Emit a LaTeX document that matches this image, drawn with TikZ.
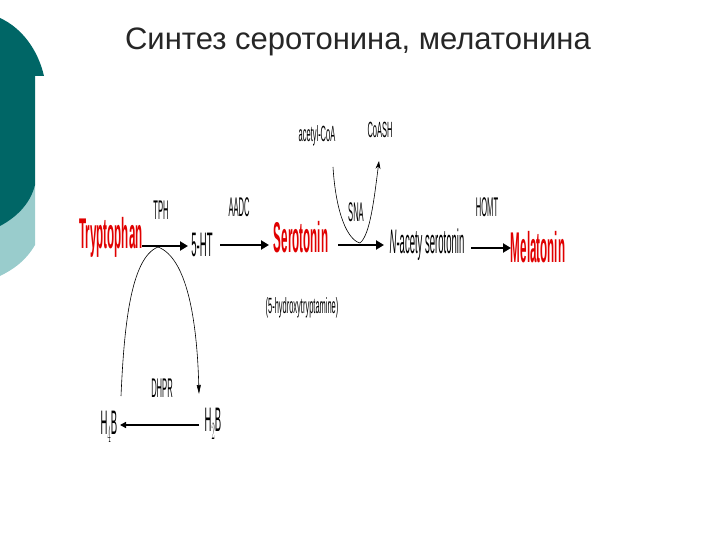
\documentclass[tikz,border=0pt]{standalone}
\usepackage{fontspec}
\setmainfont{Liberation Sans}
\usetikzlibrary{arrows.meta,calc}
\definecolor{teal1}{HTML}{006666}
\definecolor{teal2}{HTML}{99CCCC}
\definecolor{rd}{HTML}{E00000}
\begin{document}
\begin{tikzpicture}[x=1pt,y=-1pt,
  lbl/.style={inner sep=0pt,xscale=0.28,font=\fontsize{34}{34}\selectfont},
  sm/.style={inner sep=0pt,xscale=0.28,font=\fontsize{27}{27}\selectfont},
  tiny/.style={inner sep=0pt,xscale=0.34,font=\fontsize{22}{22}\selectfont},
  big/.style={inner sep=0pt,xscale=0.27,text=rd,font=\bfseries\fontsize{43}{43}\selectfont},
  thick arrow/.style={line width=2.8pt,-{Triangle[length=8pt,width=9pt]}},
  thin/.style={line width=0.6pt}]
\useasboundingbox (0,0) rectangle (720,540);
% decoration
\fill[teal2] (0,185) -- (35,185) -- (35,245) .. controls (25,262) and (12,270) .. (0,276) -- cycle;
\fill[teal1] (0,18) .. controls (22,28) and (38,50) .. (44,76) -- (35,76) -- (35,185) .. controls (30,205) and (15,218) .. (0,226) -- cycle;
\node[font=\fontsize{31}{31}\selectfont,text=black!85,inner sep=0pt] (title) at (358,42) {Синтез серотонина, мелатонина};
\node[big] (trp) at (111,237) {Tryptophan};
\node[lbl] (ht) at (202,245) {5-HT};
\node[big] (ser) at (301,237) {Serotonin};
\node[lbl] (nac) at (427,245) {\textit{N}-acety serotonin};
\node[big] (mel) at (538,247) {Melatonin};
\node[sm] (tph) at (161,210) {TPH};
\node[sm] (aadc) at (239,207) {AADC};
\node[sm] (sna) at (356,212) {SNA};
\node[sm] (homt) at (487,207) {HOMT};
\node[tiny] (hyd) at (302,308) {(5-hydroxytryptamine)};
\node[tiny] (acoa) at (317,136) {acetyl-CoA};
\node[tiny] (coash) at (380,130) {CoASH};
\node[lbl] (h4b) at (109,427) {H$_4$B};
\node[lbl] (h2b) at (213,424) {H$_2$B};
\node[sm] (dhpr) at (162,388) {DHPR};
\coordinate (a1) at (142,246); \coordinate (a2) at (188,246);
\draw[thick arrow] (a1) -- (a2);
\coordinate (b1) at (220,245); \coordinate (b2) at (269,245);
\draw[thick arrow] (b1) -- (b2);
\coordinate (c1) at (338,245); \coordinate (c2) at (384,245);
\draw[thick arrow] (c1) -- (c2);
\coordinate (d1) at (471,248); \coordinate (d2) at (511,248);
\draw[thick arrow] (d1) -- (d2);
% SNA curve
\coordinate (s0) at (333,167); \coordinate (s1) at (360,243); \coordinate (s2) at (379,161);
\draw[thin] (s0) .. controls (336,215) and (348,240) .. (s1);
\draw[thin,-{Stealth[length=8pt,width=5pt]}] (s1) .. controls (370,235) and (374,200) .. (s2);
% BH4 cycle
\coordinate (t) at (158,247);
\coordinate (h4top) at (121,396); \coordinate (h2top) at (199,394);
\draw[thin] (h4top) .. controls (124,330) and (130,258) .. (t);
\draw[thin,-{Triangle[length=9pt,width=4pt]}] (t) .. controls (187,258) and (197,320) .. (h2top);
\coordinate (e1) at (199,425); \coordinate (e2) at (120,425);
\draw[line width=1.4pt,-{Triangle[length=6pt,width=6pt]}] (e1) -- (e2);
\end{tikzpicture}
\end{document}
